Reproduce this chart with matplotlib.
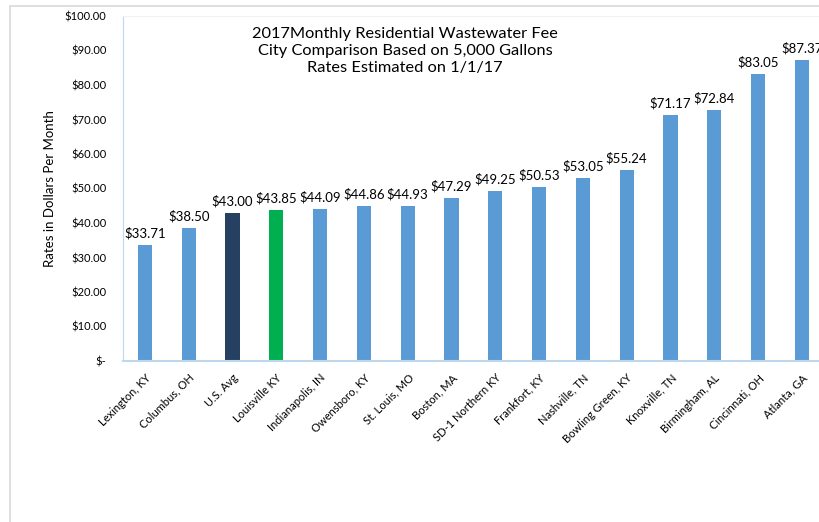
"""2017 monthly residential wastewater fee, city comparison bar chart"""
import matplotlib
matplotlib.use('Agg')
import matplotlib.pyplot as plt
from matplotlib.patches import Rectangle

plt.rcParams['font.family'] = ['Lato', 'DejaVu Sans']

# data
cities = ['Lexington, KY', 'Columbus, OH', 'U.S. Avg', 'Louisville KY',
          'Indianapolis, IN', 'Owensboro, KY', 'St. Louis, MO', 'Boston, MA',
          'SD-1 Northern KY', 'Frankfort, KY', 'Nashville, TN',
          'Bowling Green, KY', 'Knoxville, TN', 'Birmingham, AL',
          'Cincinnati, OH', 'Atlanta, GA']
fees = [33.71, 38.50, 43.00, 43.85, 44.09, 44.86, 44.93, 47.29,
        49.25, 50.53, 53.05, 55.24, 71.17, 72.84, 83.05, 87.37]

#colours: US avg dark navy, Louisville green, rest blue
colors = []
for c in cities:
    if c == 'U.S. Avg':
        colors.append('#264061')
    elif c == 'Louisville KY':
        colors.append('#00B050')
    else:
        colors.append('#5B9BD5')

fig = plt.figure(figsize=(8.2, 5.22), dpi=100)

#outer chart border (cropped on right/bottom like the original)
fig.patches.append(Rectangle((10/820, -0.1), 1.2, 1 - 6/522 + 0.1,
                             transform=fig.transFigure, fill=False,
                             edgecolor='#D9D9D9', lw=1.2))

ax = fig.add_axes([123/820, 1 - 361/522, 16*43.8/820, (361-16)/522])
x = list(range(len(cities)))
ax.bar(x, fees, width=0.32, color=colors)
ax.set_xlim(-0.5, len(cities) - 0.5)
ax.set_ylim(0, 100)

#data labels
for i, v in enumerate(fees):
    ax.annotate('${:.2f}'.format(v), (i, v), xytext=(0, 4),
                textcoords='offset points', ha='center', va='bottom',
                fontsize=9.5)

#y axis in accounting style
yt = list(range(0, 101, 10))
ax.set_yticks(yt)
ax.set_yticklabels(['$-' if t == 0 else '${:.2f}'.format(t) for t in yt],
                   fontsize=8)
ax.set_xticks(x)
ax.set_xticklabels(cities, rotation=45, ha='right', rotation_mode='anchor',
                   fontsize=8)
ax.tick_params(length=0)
ax.tick_params(axis='y', pad=12)
ax.tick_params(axis='x', pad=8)
ax.set_ylabel('Rates in Dollars Per Month', fontsize=9.5, labelpad=6)

for s in ['top', 'right']:
    ax.spines[s].set_color('#EEF3FA')
ax.spines['left'].set_color('#BDD7EE')
ax.spines['bottom'].set_color('#BDD7EE')
ax.spines['bottom'].set_linewidth(1.5)

fig.text(405/820, 1 - 51/522,
         '2017Monthly Residential Wastewater Fee\n'
         'City Comparison Based on 5,000 Gallons\n'
         'Rates Estimated on 1/1/17',
         ha='center', va='center', fontsize=11.8, linespacing=1.25)

fig.savefig('out.png', dpi=100)
